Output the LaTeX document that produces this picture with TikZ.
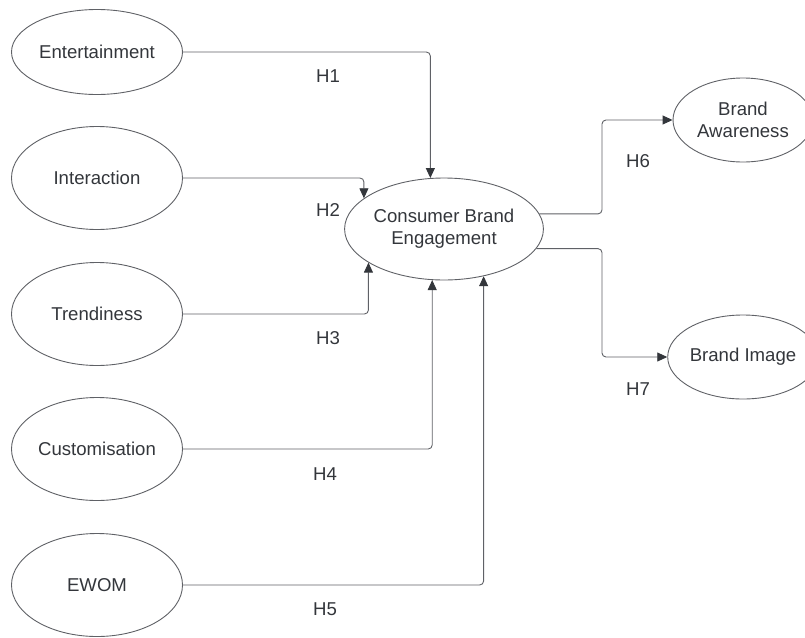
\documentclass[tikz,border=0pt]{standalone}
\usepackage{fontspec}
\setmainfont{Liberation Sans}
\usetikzlibrary{shapes.geometric,arrows.meta}
\definecolor{linegray}{HTML}{5F6166}
\definecolor{textgray}{HTML}{33363B}
\tikzset{
  construct/.style={ellipse,draw=linegray,line width=0.9pt,text=textgray,
    minimum width=171pt,minimum height=103pt,inner sep=0pt,align=center},
  link/.style={draw=linegray,line width=0.9pt,rounded corners=4pt,
    -{Triangle[length=10pt,width=9pt,fill=textgray,color=textgray]}},
  hyp/.style={text=textgray}
}
\begin{document}
\begin{tikzpicture}[x=1pt,y=-1pt,font=\fontsize{18.6}{22}\selectfont]
  \useasboundingbox (0,0) rectangle (805,637);
  \clip (0,0) rectangle (805,637);
  \node[construct,minimum height=85pt] (ent) at (97,52) {Entertainment};
  \node[construct] (int) at (97,178) {Interaction};
  \node[construct] (tre) at (97,314) {Trendiness};
  \node[construct] (cus) at (97,449) {Customisation};
  \node[construct] (ewom) at (97,585) {EWOM};
  \node[construct,minimum width=186pt,minimum height=102pt] (cbe) at (444,229) {Consumer Brand\\Engagement};
  \node[construct,minimum width=140pt,minimum height=84pt] (ba) at (743,120) {Brand\\Awareness};
  \node[construct,minimum width=140pt,minimum height=84pt] (bi) at (743,357) {Brand Image};
  \coordinate (split) at (602,0);
  \draw[link] (ent.east) -| (cbe.105);
  \draw[link] (int.east) -| (cbe.159);
  \draw[link] (tre.east) -| (cbe.204);
  \draw[link] (cus.east) -| (cbe.257);
  \draw[link] (ewom.east) -| (cbe.310);
  \draw[link] (cbe.9) -| (split |- ba.west) -- (ba.west);
  \draw[link] (cbe.348) -| (split |- bi.west) -- (bi.west);
  \node[hyp] (h1) at (328,76) {H1};
  \node[hyp] (h2) at (328,210) {H2};
  \node[hyp] (h3) at (328,338) {H3};
  \node[hyp] (h4) at (325,474) {H4};
  \node[hyp] (h5) at (325,609) {H5};
  \node[hyp] (h6) at (638,161) {H6};
  \node[hyp] (h7) at (638,389) {H7};
\end{tikzpicture}
\end{document}
